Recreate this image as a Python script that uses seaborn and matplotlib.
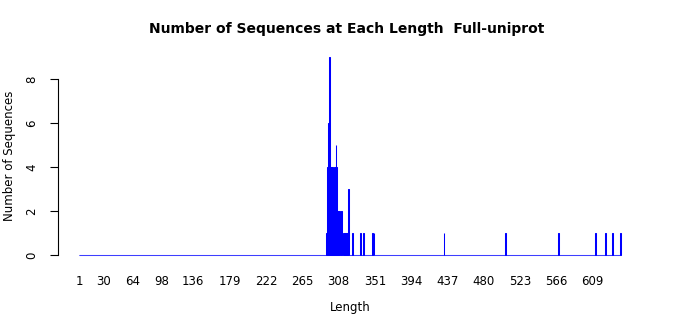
import numpy as np
import pandas as pd
import matplotlib
matplotlib.use("Agg")
import matplotlib.pyplot as plt
import seaborn as sns

# ---- data ----
max_length = 642
seq_lengths = [294, 295, 296, 297, 298, 299, 300, 301, 302, 303, 304, 305, 306, 307,
               308, 309, 311, 312, 314, 315, 316, 317, 319, 320, 325, 334, 338,
               348, 350, 433, 506, 569, 612, 624, 632, 642]
seq_counts = [1, 4, 6, 9, 4, 2, 4, 4, 1, 4, 4, 5, 4, 2,
              2, 2, 2, 2, 1, 1, 1, 1, 1, 3, 1, 1, 1,
              1, 1, 1, 1, 1, 1, 1, 1, 1]
tick_values = [1, 30, 64, 98, 136, 179, 222, 265, 308, 351, 394, 437, 480, 523, 566, 609]
y_ticks = [0, 2, 4, 6, 8]

# every length from 1 to the maximum, zero where no sequence has that length
all_lengths = np.arange(1, max_length + 1)
count_map = dict(zip(seq_lengths, seq_counts))
df = pd.DataFrame({"Length": all_lengths,
                   "Count": [count_map.get(int(v), 0) for v in all_lengths]})

sns.set_style("white")
plt.rcParams["font.family"] = ["DejaVu Sans"]
plt.rcParams["text.color"] = "black"
plt.rcParams["axes.labelcolor"] = "black"
plt.rcParams["xtick.color"] = "black"
plt.rcParams["ytick.color"] = "black"

fig = plt.figure(figsize=(7.0, 3.15), dpi=100)
ax = fig.add_axes([0.0824, 0.1654, 0.835, 0.6787])

sns.barplot(data=df, x="Length", y="Count", native_scale=True, color="#0000ff",
            saturation=1, width=1.0, linewidth=0.75, edgecolor="#0000ff",
            errorbar=None, ax=ax)

x_pad = 0.04 * (max_length - 1)
ax.set_xlim(1 - x_pad, max_length + x_pad)
ax.set_ylim(-0.36, 9.36)

ax.set_xticks(tick_values)
ax.set_xticklabels([str(v) for v in tick_values])
ax.set_yticks(y_ticks)
ax.set_yticklabels([str(v) for v in y_ticks])

for s in ["top", "right", "bottom"]:
    ax.spines[s].set_visible(False)
ax.spines["left"].set_bounds(0, 8)
ax.spines["left"].set_color("black")
ax.spines["left"].set_linewidth(0.8)

ax.tick_params(axis="x", length=0, pad=8.6, labelsize=8.5, colors="black")
ax.tick_params(axis="y", length=6, width=0.8, pad=8, labelsize=8.5,
               colors="black", left=True)
for lbl in ax.get_yticklabels():
    lbl.set_rotation(90)
    lbl.set_va("center")

ax.set_xlabel("Length", fontsize=8.5, va="center", color="black")
ax.xaxis.set_label_coords(0.5, -0.21)
ax.set_ylabel("Number of Sequences", fontsize=8.5, va="center", color="black")
ax.yaxis.set_label_coords(-0.083, 0.5)

ax.set_title("Number of Sequences at Each Length  Full-uniprot",
             fontsize=10, fontweight="bold", y=1.094, va="center", pad=0,
             x=0.494, color="black")

fig.savefig("out.png", dpi=100)
